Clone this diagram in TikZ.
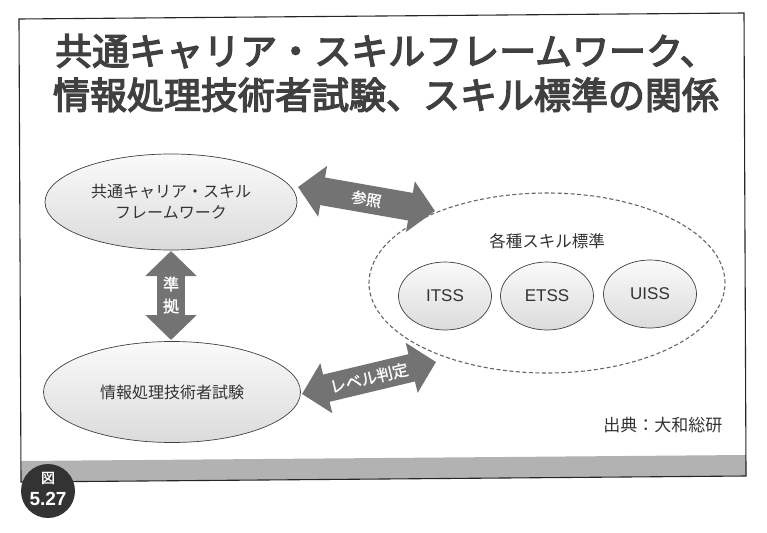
\documentclass[tikz,border=0pt]{standalone}
\usepackage{fontspec}
\setmainfont{Noto Sans CJK JP}
\newfontfamily\titlefont[FakeBold=3.5]{Noto Sans CJK JP}
\newfontfamily\boldjp[FakeBold=1.2]{Noto Sans CJK JP}
\newfontfamily\latinfont{Liberation Sans}
\usetikzlibrary{shapes.geometric,arrows.meta,calc}
\definecolor{arrowgray}{gray}{0.45}
\definecolor{txtgray}{gray}{0.2}
\tikzset{
  blob/.style={ellipse, draw=black!75, line width=0.7pt, top color=gray!4, bottom color=gray!28, text=txtgray, inner sep=0pt, align=center, font=\fontsize{16}{21}\selectfont},
  smallblob/.style={blob, minimum width=93pt, minimum height=68pt, font=\latinfont\fontsize{17}{20}\selectfont},
  fatarrow/.style={draw=arrowgray, line width=28pt, {Triangle[width=50pt,length=25pt]}-{Triangle[width=50pt,length=25pt]}},
  arrowlabel/.style={text=white, font=\boldjp\fontsize{15}{17}\selectfont, inner sep=0pt},
}
\begin{document}
\begin{tikzpicture}[x=1pt,y=-1pt]
\useasboundingbox (0,0) rectangle (767,532);
\fill[white] (0,0) rectangle (767,532);
% frame and bottom bar
\coordinate (tl) at (19,19);
\coordinate (tr) at (744,13);
\coordinate (br) at (746,476);
\coordinate (bl) at (21,482);
\fill[gray!60] ($(bl)+(0,-21)$) -- ($(br)+(0,-21)$) -- (br) -- (bl) -- cycle;
\draw[black!85, line width=1.1pt] (tl) -- (tr) -- (br) -- (bl) -- cycle;
% title
\node[text=black!75, font=\titlefont\fontsize{37}{44}\selectfont, align=center] (title) at (386,73)
  {共通キャリア・スキルフレームワーク、\\情報処理技術者試験、スキル標準の関係};
% left ellipses
\node[blob, minimum width=252pt, minimum height=96pt] (ccsf) at (171,202) {共通キャリア・スキル\\フレームワーク};
\node[blob, minimum width=257pt, minimum height=101pt] (exam) at (172,392) {情報処理技術者試験};
% dashed group
\node[ellipse, draw=black!60, dashed, dash pattern=on 4pt off 2.5pt, line width=1.1pt, minimum width=356pt, minimum height=180pt] (std) at (547,283) {};
\node[text=txtgray, font=\fontsize{16.5}{20}\selectfont] (stdlabel) at (547,241) {各種スキル標準};
\node[smallblob] (itss) at (445,296) {ITSS};
\node[smallblob] (etss) at (547,296) {ETSS};
\node[smallblob] (uiss) at (650,294) {UISS};
% arrows
\coordinate (a1) at (171,251);
\coordinate (a2) at (171,340);
\draw[fatarrow] (a1) -- (a2);
\node[arrowlabel, align=center, font=\boldjp\fontsize{16}{22}\selectfont] (jk) at (171,295) {準\\拠};
\coordinate (r1) at (298,187);
\coordinate (r2) at (435,211);
\draw[fatarrow] (r1) -- node[arrowlabel, sloped] (ref) {参照} (r2);
\coordinate (l1) at (302,394);
\coordinate (l2) at (436,362);
\draw[fatarrow] (l1) -- node[arrowlabel, sloped, font=\boldjp\fontsize{16}{18}\selectfont] (lv) {レベル判定} (l2);
% source
\node[anchor=east, text=txtgray, font=\fontsize{17}{20}\selectfont] (src) at (726,425) {出典：大和総研};
% figure badge
\node[circle, fill=black!80, minimum size=54pt, inner sep=0pt, text=white] (badge) at (48,491) {};
\node[text=white, font=\boldjp\fontsize{14}{14}\selectfont, inner sep=0pt] (badgea) at (48,478) {図};
\node[text=white, font=\latinfont\bfseries\fontsize{19}{19}\selectfont, inner sep=0pt] (badgeb) at (48,499) {5.27};
\end{tikzpicture}
\end{document}
